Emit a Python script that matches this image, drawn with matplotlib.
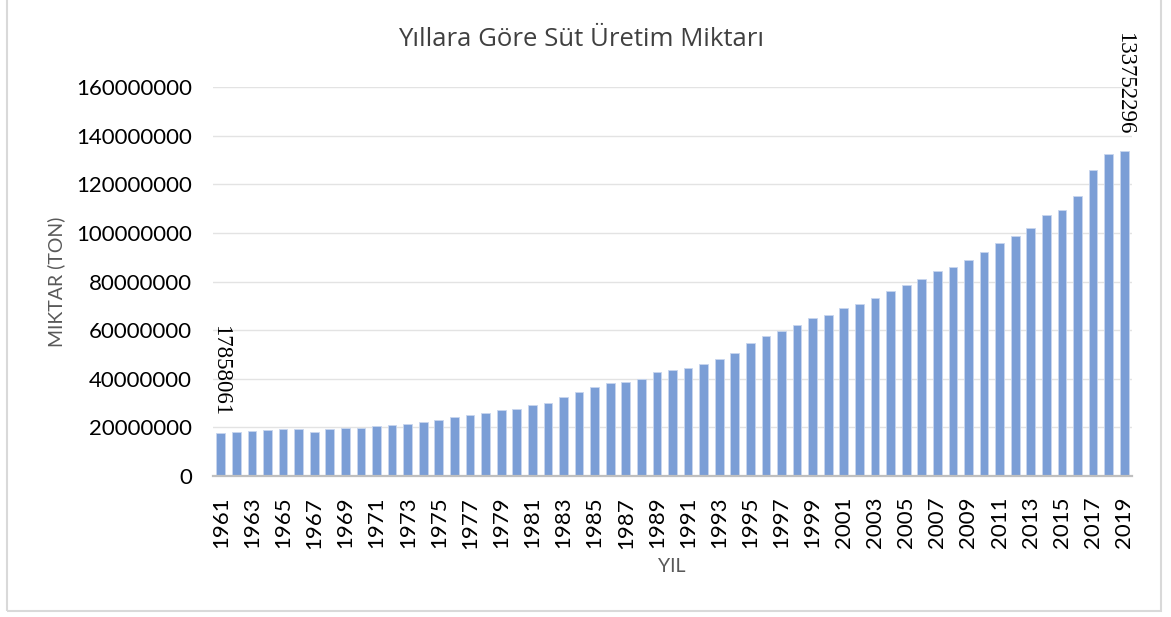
import matplotlib.pyplot as plt
from matplotlib.patches import Rectangle
from matplotlib.ticker import FuncFormatter

# Yıllara göre süt üretimi (ton)
years = list(range(1961, 2020))
production = [
    17858061, 18200000, 18600000, 18900000, 19200000, 19200000, 18300000, 19400000, 19900000, 19600000,
    20600000, 21000000, 21400000, 22400000, 23200000, 24400000, 25200000, 25800000, 27000000, 27500000,
    29200000, 30100000, 32600000, 34700000, 36600000, 38300000, 38500000, 40000000, 42600000, 43700000,
    44300000, 45900000, 48100000, 50400000, 54500000, 57700000, 59800000, 62200000, 64800000, 66400000,
    69100000, 70600000, 73400000, 75900000, 78700000, 80900000, 84200000, 86100000, 88900000, 92300000,
    95900000, 98800000, 102200000, 107500000, 109300000, 115000000, 125800000, 132500000, 133752296,
]
y_ticks = [0, 20000000, 40000000, 60000000, 80000000, 100000000, 120000000, 140000000, 160000000]
labeled_years = [1961, 2019]

title = "Yıllara Göre Süt Üretim Miktarı"
x_title = "YIL"
y_title = "MIKTAR (TON)"

plt.rcParams['font.family'] = ['Lato', 'DejaVu Sans']

fig = plt.figure(figsize=(11.71, 6.17), dpi=100)
fig.patch.set_facecolor('white')

# çerçeve
fig.patches.append(Rectangle((7 / 1171, 1 - 611 / 617), 1154 / 1171, 611 / 617 + 0.01,
                             transform=fig.transFigure, fill=False,
                             edgecolor='#D9D9D9', linewidth=1.5))

ax = fig.add_axes([213 / 1171, 141 / 617, 919 / 1171, 389 / 617])

x = list(range(len(years)))
ax.bar(x, production, width=0.56, color='#7B9ED6', edgecolor='#C8D6EE',
       linewidth=0.6, zorder=2)

ax.set_xlim(-0.5, len(years) - 0.5)
ax.set_ylim(0, 160000000)
ax.set_yticks(y_ticks)
ax.yaxis.set_major_formatter(FuncFormatter(lambda v, p: f"{int(v)}"))
ax.set_xticks(x[::2])
ax.set_xticklabels([str(y) for y in years[::2]], rotation=90)

ax.tick_params(axis='both', length=0, labelsize=16, colors='black')
ax.tick_params(axis='y', pad=15)
ax.tick_params(axis='x', pad=15)

ax.grid(axis='y', color='#E3E3E3', linewidth=1.0, zorder=0)
ax.set_axisbelow(True)
for s in ['left', 'right', 'top']:
    ax.spines[s].set_visible(False)
ax.spines['bottom'].set_color('#BFBFBF')
ax.spines['bottom'].set_linewidth(1.6)
ax.spines['bottom'].set_zorder(3)

# veri etiketleri
for yr in labeled_years:
    i = years.index(yr)
    ax.annotate(str(production[i]), xy=(x[i], production[i]), xytext=(0, 12),
                textcoords='offset points', rotation=270, ha='center', va='bottom',
                fontsize=16.5, family=['Liberation Serif', 'DejaVu Serif'], color='black')

fig.text(581 / 1171, 1 - 40 / 617, title, ha='center', va='center',
         fontsize=18.5, color='#404040', family=['Open Sans', 'DejaVu Sans'])
fig.text(672 / 1171, 1 - 567 / 617, x_title, ha='center', va='center',
         fontsize=14, color='#595959')
fig.text(56 / 1171, 1 - 282 / 617, y_title, ha='center', va='center',
         rotation=90, fontsize=14, color='#595959')

fig.savefig('out.png', dpi=100)
